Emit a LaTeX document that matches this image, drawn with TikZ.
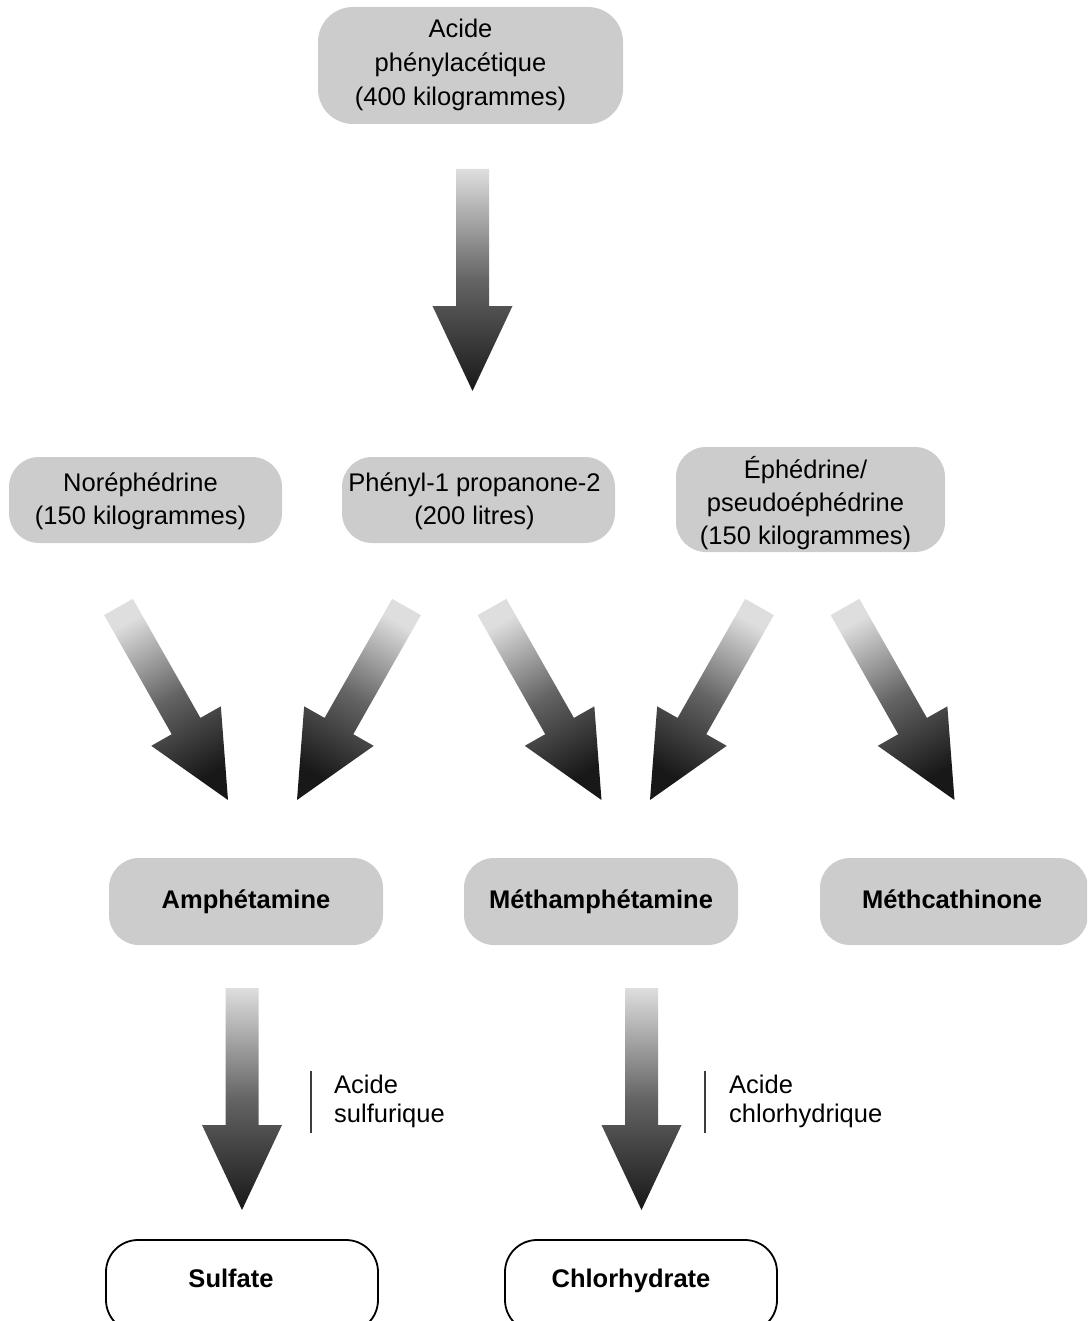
\documentclass[tikz,border=0pt]{standalone}
\usepackage{fontspec}
\setmainfont{Liberation Sans}
\usetikzlibrary{calc}
\definecolor{boxgray}{RGB}{204,204,204}
\definecolor{arrlight}{RGB}{222,222,222}
\definecolor{arrmid}{RGB}{100,100,100}
\definecolor{arrdark}{RGB}{24,24,24}
\definecolor{rulegray}{RGB}{60,60,60}
\tikzset{
  greybox/.style={rectangle, rounded corners=30pt, fill=boxgray, inner sep=0pt,
    font=\fontsize{25.5}{33}\selectfont},
  boldbox/.style={greybox, font=\fontsize{25.5}{30}\selectfont\bfseries, text height=19pt, text depth=6pt},
  outbox/.style={rectangle, rounded corners=32pt, draw=black, line width=1.8pt, fill=white,
    inner sep=0pt, font=\fontsize{25.5}{30}\selectfont\bfseries},
  reagent/.style={align=left, inner sep=0pt, font=\fontsize{25.5}{29}\selectfont},
  bararrow/.style={top color=arrlight, bottom color=arrdark, middle color=arrmid},
}
% text block shifted by (#1 right, #2 up) inside its box, without changing the box
\newcommand{\boxtext}[3]{\hspace*{#1}\raisebox{#2}[\height][\depth]{\begin{tabular}{@{}c@{}}#3\end{tabular}}\hspace*{-#1}}
\newcommand{\blockarrow}[3]{%
  \coordinate (hb) at ($(#2)!85pt!(#1)$);
  \shade[bararrow, shading angle=#3]
    ($(#1)!16.5pt!90:(#2)$) -- ($(hb)!16.5pt!-90:(#1)$) -- ($(hb)!40pt!-90:(#1)$) -- (#2)
    -- ($(hb)!40pt!90:(#1)$) -- ($(hb)!16.5pt!90:(#1)$) -- ($(#1)!16.5pt!-90:(#2)$) -- cycle;
}
\begin{document}
\begin{tikzpicture}[x=1pt,y=-1pt]
\useasboundingbox (0,0) rectangle (1087,1321);
\clip (0,0) rectangle (1087,1321);

% source
\node[greybox, minimum width=305pt, minimum height=117pt, rounded corners=35pt,
  font=\fontsize{25.5}{34}\selectfont] (pa) at (470.5,65.5)
  {\boxtext{-10pt}{1pt}{Acide\\phénylacétique\\(400 kilogrammes)}};

% precursors
\node[greybox, minimum width=273pt, minimum height=86pt] (nor) at (145.5,500)
  {\boxtext{-5pt}{-1pt}{Noréphédrine\\(150 kilogrammes)}};
\node[greybox, minimum width=273pt, minimum height=86pt] (p2p) at (478.5,500)
  {\boxtext{-4pt}{-1pt}{Phényl-1 propanone-2\\(200 litres)}};
\node[greybox, minimum width=269pt, minimum height=105pt] (eph) at (810.5,499.5)
  {\boxtext{-5pt}{-5pt}{Éphédrine/\\pseudoéphédrine\\(150 kilogrammes)}};

% products
\node[boldbox, minimum width=274pt, minimum height=87pt] (amph) at (246,901.5) {Amphétamine};
\node[boldbox, minimum width=274pt, minimum height=87pt] (meth) at (601,901.5) {Méthamphétamine};
\node[boldbox, minimum width=268pt, minimum height=87pt] (mcat) at (954,901.5) {\hspace*{-2pt}Méthcathinone\hspace*{2pt}};

% salts
\node[outbox, minimum width=272pt, minimum height=92pt, text height=18pt, text depth=16pt] (sulf) at (242,1286)
  {\hspace*{-11pt}Sulfate\hspace*{11pt}};
\node[outbox, minimum width=272pt, minimum height=92pt, text height=18pt, text depth=16pt] (chlor) at (641,1286)
  {\hspace*{-10pt}Chlorhydrate\hspace*{10pt}};

% arrow end points
\coordinate (a0s) at (472.5,169);  \coordinate (a0e) at (472.5,391);
\coordinate (a1s) at (118.5,607);  \coordinate (a1e) at (228,800);
\coordinate (a2s) at (406.5,607);  \coordinate (a2e) at (297,800);
\coordinate (a3s) at (492,607);    \coordinate (a3e) at (601.5,800);
\coordinate (a4s) at (759.5,607);  \coordinate (a4e) at (650,800);
\coordinate (a5s) at (845,607);    \coordinate (a5e) at (954.5,800);
\coordinate (a6s) at (242,988);    \coordinate (a6e) at (242,1210);
\coordinate (a7s) at (641.5,988);  \coordinate (a7e) at (641.5,1210);

\blockarrow{a0s}{a0e}{0}
\blockarrow{a1s}{a1e}{29.4}
\blockarrow{a2s}{a2e}{-29.4}
\blockarrow{a3s}{a3e}{29.4}
\blockarrow{a4s}{a4e}{-29.4}
\blockarrow{a5s}{a5e}{29.4}
\blockarrow{a6s}{a6e}{0}
\blockarrow{a7s}{a7e}{0}

% reagents
\coordinate (r1t) at (311,1071); \coordinate (r1b) at (311,1133);
\coordinate (r2t) at (705,1071); \coordinate (r2b) at (705,1133);
\draw[rulegray, line width=1.6pt] (r1t) -- (r1b);
\draw[rulegray, line width=1.6pt] (r2t) -- (r2b);
\node[reagent, anchor=west] (rs) at (334,1101) {Acide\\sulfurique};
\node[reagent, anchor=west] (rc) at (729,1101) {Acide\\chlorhydrique};
\end{tikzpicture}
\end{document}
